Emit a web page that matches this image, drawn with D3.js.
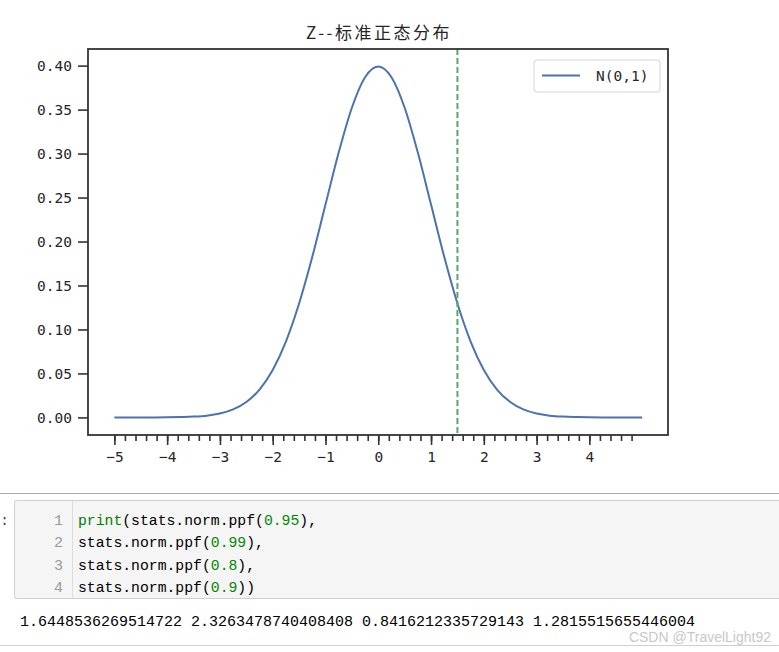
<!DOCTYPE html>
<html>
<head>
<meta charset="utf-8">
<script src="https://cdn.jsdelivr.net/npm/d3@7"></script>
<style>
  body { margin: 0; background: #fff; }
  svg { display: block; }
</style>
</head>
<body>
<div id="display"><svg width="779" height="652"></svg></div>
<script>
// values (standard normal density)
var xValues = [-5, -4.75, -4.5, -4.25, -4, -3.75, -3.5, -3.25, -3, -2.75, -2.5, -2.25, -2, -1.75, -1.5, -1.25, -1, -0.75, -0.5, -0.25,
               0, 0.25, 0.5, 0.75, 1, 1.25, 1.5, 1.75, 2, 2.25, 2.5, 2.75, 3, 3.25, 3.5, 3.75, 4, 4.25, 4.5, 4.75, 5];
var densities = [0.0000, 0.0000, 0.0000, 0.0000, 0.0001, 0.0004, 0.0009, 0.0020, 0.0044, 0.0091, 0.0175, 0.0317, 0.0540, 0.0863, 0.1295, 0.1826, 0.2420, 0.3011, 0.3521, 0.3867,
                 0.3989, 0.3867, 0.3521, 0.3011, 0.2420, 0.1826, 0.1295, 0.0863, 0.0540, 0.0317, 0.0175, 0.0091, 0.0044, 0.0020, 0.0009, 0.0004, 0.0001, 0.0000, 0.0000, 0.0000, 0.0000];
var cutoff = 1.5;
var xMajor = [-5, -4, -3, -2, -1, 0, 1, 2, 3, 4];
var xMinor = [-5, -4.8, -4.6, -4.4, -4.2, -4, -3.8, -3.6, -3.4, -3.2, -3, -2.8, -2.6, -2.4, -2.2, -2, -1.8, -1.6, -1.4, -1.2, -1, -0.8, -0.6, -0.4, -0.2,
              0, 0.2, 0.4, 0.6, 0.8, 1, 1.2, 1.4, 1.6, 1.8, 2, 2.2, 2.4, 2.6, 2.8, 3, 3.2, 3.4, 3.6, 3.8, 4, 4.2, 4.4, 4.6, 4.8];
var yTicks = [0, 0.05, 0.1, 0.15, 0.2, 0.25, 0.3, 0.35, 0.4];
var title = "Z--标准正态分布";
var legendLabel = "N(0,1)";
var codeLines = [
    [["print", "#008000"], ["(stats.norm.ppf(", "#000"], ["0.95", "#008800"], ["),", "#000"]],
    [["stats.norm.ppf(", "#000"], ["0.99", "#008800"], ["),", "#000"]],
    [["stats.norm.ppf(", "#000"], ["0.8", "#008800"], ["),", "#000"]],
    [["stats.norm.ppf(", "#000"], ["0.9", "#008800"], ["))", "#000"]]
];
var outputText = "1.6448536269514722 2.3263478740408408 0.8416212335729143 1.2815515655446004";
var watermark = "CSDN @TravelLight92";

var canvas = d3.select("#display svg");
var box = { left: 88, right: 668, top: 49, bottom: 435 };
var x = d3.scaleLinear().domain([-5.5, 5.49]).range([box.left, box.right]);
var y = d3.scaleLinear().domain([-0.02, 0.4189]).range([box.bottom, box.top]);
var tickFont = "'DejaVu Sans Mono', monospace";

// title
canvas.append("text")
    .attr("x", (box.left + box.right) / 2 + 1).attr("y", 39)
    .attr("text-anchor", "middle")
    .style("font-family", "'Noto Sans CJK SC', sans-serif")
    .style("font-size", "17px").style("letter-spacing", "2.5px")
    .style("fill", "#262626")
    .text(title);

// curve
var pts = xValues.map(function (v, i) { return [v, densities[i]]; });
canvas.append("path")
    .datum(pts)
    .attr("d", d3.line().x(function (d) { return x(d[0]); }).y(function (d) { return y(d[1]); }).curve(d3.curveMonotoneX))
    .style("fill", "none").style("stroke", "#4c72b0").style("stroke-width", 2);

// dashed cutoff line
canvas.append("line")
    .attr("x1", x(cutoff)).attr("x2", x(cutoff))
    .attr("y1", box.top).attr("y2", box.bottom)
    .style("stroke", "#55a868").style("stroke-width", 2)
    .style("stroke-dasharray", "6,3");

// x axis: minor then major ticks
var xMinorAxis = canvas.append("g").attr("transform", "translate(0," + box.bottom + ")")
    .call(d3.axisBottom(x).tickValues(xMinor).tickSize(6).tickFormat(""));
var xAxis = canvas.append("g").attr("transform", "translate(0," + box.bottom + ")")
    .call(d3.axisBottom(x).tickValues(xMajor).tickSize(10).tickPadding(7).tickFormat(d3.format("d")));
var yAxis = canvas.append("g").attr("transform", "translate(" + box.left + ",0)")
    .call(d3.axisLeft(y).tickValues(yTicks).tickSize(10).tickPadding(6).tickFormat(d3.format(".2f")));
[xMinorAxis, xAxis, yAxis].forEach(function (g) {
    g.select(".domain").remove();
    g.selectAll(".tick line").style("stroke", "#333").style("stroke-width", 1.6);
    g.selectAll(".tick text").style("font-family", tickFont).style("font-size", "14.5px").style("fill", "#262626");
});

// frame
canvas.append("rect")
    .attr("x", box.left).attr("y", box.top)
    .attr("width", box.right - box.left).attr("height", box.bottom - box.top)
    .style("fill", "none").style("stroke", "#333").style("stroke-width", 1.8);

// legend
var lg = canvas.append("g").attr("transform", "translate(534,60)");
lg.append("rect").attr("width", 126).attr("height", 32).attr("rx", 3)
    .style("fill", "#fff").style("stroke", "#d6d6d6");
lg.append("line").attr("x1", 8).attr("x2", 46).attr("y1", 15.5).attr("y2", 15.5)
    .style("stroke", "#4c72b0").style("stroke-width", 2);
lg.append("text").attr("x", 62).attr("y", 21)
    .style("font-family", tickFont).style("font-size", "14.5px").style("fill", "#262626")
    .text(legendLabel);

// notebook cell below
canvas.append("line").attr("x1", 0).attr("x2", 779).attr("y1", 493.5).attr("y2", 493.5)
    .style("stroke", "#ababab");
canvas.append("rect").attr("x", 14.5).attr("y", 500.5).attr("width", 780).attr("height", 98).attr("rx", 2)
    .style("fill", "#f5f5f5").style("stroke", "#cfcfcf");
canvas.append("line").attr("x1", 72.5).attr("x2", 72.5).attr("y1", 501).attr("y2", 598)
    .style("stroke", "#dddddd");
canvas.append("text").attr("x", 0).attr("y", 525)
    .style("font-family", "'Liberation Mono', monospace").style("font-size", "15px").style("fill", "#303f9f")
    .text(":");

var codeFont = "'Liberation Mono', monospace";
codeLines.forEach(function (parts, i) {
    var by = 525 + i * 22.4;
    canvas.append("text").attr("x", 63).attr("y", by).attr("text-anchor", "end")
        .style("font-family", codeFont).style("font-size", "15px").style("fill", "#999")
        .text(i + 1);
    var t = canvas.append("text").attr("x", 78).attr("y", by)
        .style("font-family", codeFont).style("font-size", "14.75px");
    parts.forEach(function (p) {
        t.append("tspan").style("fill", p[1]).text(p[0]);
    });
});

canvas.append("text").attr("x", 20).attr("y", 626)
    .style("font-family", codeFont).style("font-size", "15px").style("fill", "#000")
    .text(outputText);

canvas.append("line").attr("x1", 0).attr("x2", 779).attr("y1", 645.5).attr("y2", 645.5)
    .style("stroke", "#d0d0d0");
canvas.append("text").attr("x", 771).attr("y", 642).attr("text-anchor", "end")
    .style("font-family", "'Liberation Sans', Arial, sans-serif").style("font-size", "14px").style("fill", "#c8c8c8")
    .text(watermark);
</script>
</body>
</html>
